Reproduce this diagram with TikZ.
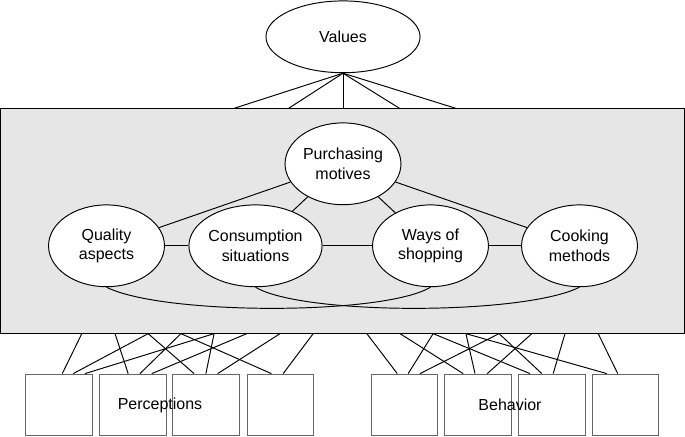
\documentclass[tikz,border=0pt]{standalone}
\usepackage{fontspec}
\setmainfont{Liberation Sans}
\usepackage{tikz}
\usetikzlibrary{calc,shapes}

\definecolor{panelgray}{HTML}{E6E6E6}
\tikzset{
	motive/.style={draw, ellipse, fill=white, align=center, inner sep=0pt, minimum width=2.55cm, minimum height=1.8cm},
	itembox/.style={draw=black!60, fill=white, inner sep=0pt, minimum width=1.47cm, minimum height=1.36cm},
}

\begin{document}
\begin{tikzpicture}[line width=0.6pt, font=\fontsize{10}{12}\selectfont]
		\useasboundingbox (0,0) rectangle (15.07,9.61);

		\draw (7.535,4.743) node[draw, fill=panelgray, inner sep=0pt, minimum width=15.03cm, minimum height=4.95cm] (panel) {};
		\draw (7.546,8.8) node[draw, ellipse, fill=white, minimum width=3.39cm, minimum height=1.58cm] (values) {Values};

		\coordinate (v1) at (5.13,7.22);
		\coordinate (v2) at (6.34,7.22);
		\coordinate (v3) at (7.546,7.22);
		\coordinate (v4) at (8.80,7.22);
		\coordinate (v5) at (10.05,7.22);
		\draw (values.south) -- (v1);
		\draw (values.south) -- (v2);
		\draw (values.south) -- (v3);
		\draw (values.south) -- (v4);
		\draw (values.south) -- (v5);

		\draw (7.546,6.006) node[motive] (purchasing) {Purchasing\\motives};
		\draw (2.343,4.202) node[motive] (quality) {Quality\\aspects};
		\draw (5.621,4.202) node[motive] (consumption) {Consumption\\situations};
		\draw (9.471,4.202) node[motive] (ways) {Ways of\\shopping};
		\draw (12.749,4.202) node[motive] (cooking) {Cooking\\methods};
		\draw (purchasing) -- (quality);
		\draw (purchasing) -- (consumption);
		\draw (purchasing) -- (ways);
		\draw (purchasing) -- (cooking);
		\draw (quality) -- (consumption);
		\draw (consumption) -- (ways);
		\draw (ways) -- (cooking);
		\draw (quality.south) .. controls +(1.24,-0.62) and +(-1.03,-0.62) .. (ways.south);
		\draw (consumption.south) .. controls +(1.03,-0.62) and +(-1.24,-0.62) .. (cooking.south);

		\draw (1.30,0.70) node[itembox] (p1) {};
		\draw (2.92,0.70) node[itembox] (p2) {};
		\draw (4.54,0.70) node[itembox] (p3) {};
		\draw (6.17,0.70) node[itembox] (p4) {};
		\draw (8.90,0.70) node[itembox] (b1) {};
		\draw (10.52,0.70) node[itembox] (b2) {};
		\draw (12.14,0.70) node[itembox] (b3) {};
		\draw (13.76,0.70) node[itembox] (b4) {};
		\draw (3.52,0.70) node (perceptions) {Perceptions};
		\draw (11.22,0.70) node (behavior) {Behavior};

		\coordinate (pt1) at (1.80,2.27);
		\coordinate (pt2) at (2.53,2.27);
		\coordinate (pt3) at (3.26,2.27);
		\coordinate (pt4) at (3.98,2.27);
		\coordinate (pt5) at (4.71,2.27);
		\coordinate (pt6) at (5.43,2.27);
		\coordinate (pt7) at (6.16,2.27);
		\coordinate (pt8) at (6.89,2.27);
		\draw (pt1) -- ([xshift=0.07cm]p1.north);
		\draw (pt3) -- ([xshift=0.31cm]p1.north);
		\draw (pt5) -- ([xshift=0.57cm]p1.north);
		\draw (pt2) -- ([xshift=-0.10cm]p2.north);
		\draw (pt4) -- ([xshift=0.16cm]p2.north);
		\draw (pt6) -- ([xshift=0.42cm]p2.north);
		\draw (pt3) -- ([xshift=-0.27cm]p3.north);
		\draw (pt5) -- ([xshift=-0.01cm]p3.north);
		\draw (pt7) -- ([xshift=0.25cm]p3.north);
		\draw (pt4) -- ([xshift=-0.20cm]p4.north);
		\draw (pt8) -- ([xshift=0.06cm]p4.north);

		\coordinate (bt1) at (8.07,2.27);
		\coordinate (bt2) at (8.80,2.27);
		\coordinate (bt3) at (9.53,2.27);
		\coordinate (bt4) at (10.25,2.27);
		\coordinate (bt5) at (10.98,2.27);
		\coordinate (bt6) at (11.70,2.27);
		\coordinate (bt7) at (12.43,2.27);
		\coordinate (bt8) at (13.16,2.27);
		\draw (bt1) -- ([xshift=-0.16cm]b1.north);
		\draw (bt3) -- ([xshift=0.08cm]b1.north);
		\draw (bt5) -- ([xshift=0.34cm]b1.north);
		\draw (bt2) -- ([xshift=-0.33cm]b2.north);
		\draw (bt4) -- ([xshift=-0.07cm]b2.north);
		\draw (bt6) -- ([xshift=0.20cm]b2.north);
		\draw (bt3) -- ([xshift=-0.48cm]b3.north);
		\draw (bt5) -- ([xshift=-0.22cm]b3.north);
		\draw (bt7) -- ([xshift=0.03cm]b3.north);
		\draw (bt4) -- ([xshift=-0.41cm]b4.north);
		\draw (bt8) -- ([xshift=-0.17cm]b4.north);
	\end{tikzpicture}
\end{document}
